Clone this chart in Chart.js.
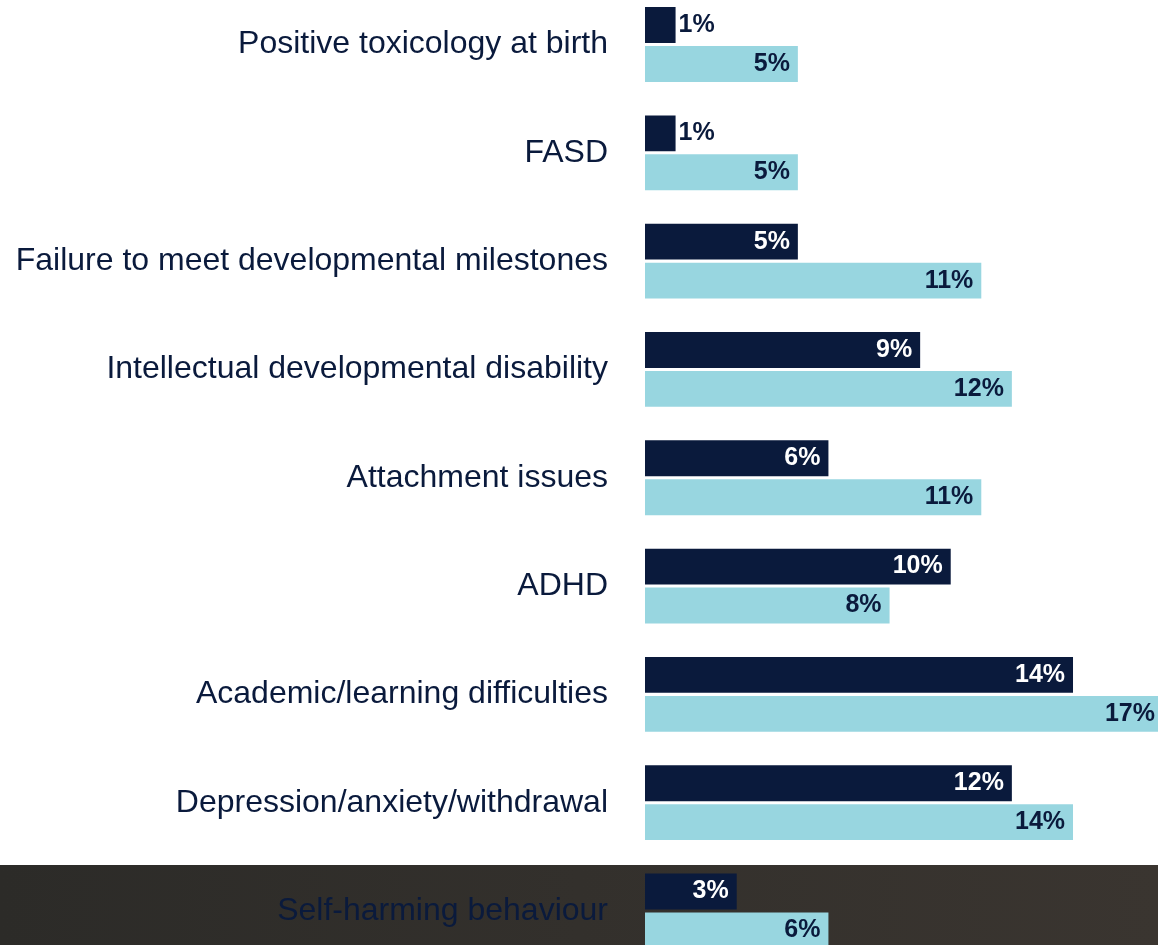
<!DOCTYPE html>
<html>
<head>
<meta charset="utf-8">
<script src="https://cdn.jsdelivr.net/npm/chart.js@4/dist/chart.umd.min.js"></script>
<style>
  body { margin: 0; background: #ffffff; overflow: hidden; }
  #wrap { position: relative; width: 1158px; height: 945px; }
  #band { position: absolute; left: 0; top: 865px; width: 1158px; height: 80px;
          background: linear-gradient(to right, #2c2b28, #3a3530); }
  #chart { position: absolute; left: 0; top: 0; }
</style>
</head>
<body>
<div id="wrap">
  <div id="band"></div>
  <canvas id="chart" width="1158" height="945"></canvas>
</div>
<script>
// categories (top to bottom)
var categories = [
  "Positive toxicology at birth",
  "FASD",
  "Failure to meet developmental milestones",
  "Intellectual developmental disability",
  "Attachment issues",
  "ADHD",
  "Academic/learning difficulties",
  "Depression/anxiety/withdrawal",
  "Self-harming behaviour"
];

// series values, in percent
var darkValues = [1, 1, 5, 9, 6, 10, 14, 12, 3];
var lightValues = [5, 5, 11, 12, 11, 8, 17, 14, 6];

var navy = "#0a1a3c";
var lightBlue = "#98d6e0";

// draws the % labels at the end of each bar
var barLabels = {
  id: "barLabels",
  afterDatasetsDraw: function(chart) {
    var ctx = chart.ctx;
    var area = chart.chartArea;
    ctx.save();
    ctx.font = "bold 25px 'Liberation Sans', Arial, sans-serif";
    ctx.textBaseline = "middle";
    chart.data.datasets.forEach(function(ds, di) {
      var meta = chart.getDatasetMeta(di);
      meta.data.forEach(function(bar, i) {
        var txt = ds.data[i] + "%";
        var w = ctx.measureText(txt).width;
        var len = bar.x - bar.base;
        if (w + 12 > len) {
          // doesn't fit, put it outside
          ctx.textAlign = "left";
          ctx.fillStyle = navy;
          ctx.fillText(txt, bar.x + 3, bar.y);
        } else {
          ctx.textAlign = "right";
          ctx.fillStyle = di == 0 ? "#ffffff" : navy;
          ctx.fillText(txt, Math.min(bar.x - 8, area.right - 3), bar.y);
        }
      });
    });
    ctx.restore();
  }
};

var ctx = document.getElementById("chart").getContext("2d");
var chart = new Chart(ctx, {
  type: "bar",
  data: {
    labels: categories,
    datasets: [{
      data: darkValues,
      backgroundColor: navy,
      categoryPercentage: 0.72,
      barPercentage: 0.92,
      clip: false
    }, {
      data: lightValues,
      backgroundColor: lightBlue,
      categoryPercentage: 0.72,
      barPercentage: 0.92,
      clip: false
    }]
  },
  options: {
    indexAxis: "y",
    responsive: false,
    animation: false,
    layout: { padding: { top: 44.5, bottom: 34, left: 0, right: 0 } },
    plugins: {
      legend: { display: false },
      tooltip: { enabled: false }
    },
    scales: {
      x: {
        display: false,
        min: 0,
        max: 16.78
      },
      y: {
        offset: false,
        grid: { display: false, drawTicks: false },
        border: { display: false },
        ticks: {
          padding: 37,
          color: navy,
          font: { family: "'Liberation Sans', Arial, sans-serif", size: 32 }
        },
        afterFit: function(scale) {
          scale.width = 645;
          scale.paddingTop = 0;
          scale.paddingBottom = 0;
        }
      }
    }
  },
  plugins: [barLabels]
});
</script>
</body>
</html>
